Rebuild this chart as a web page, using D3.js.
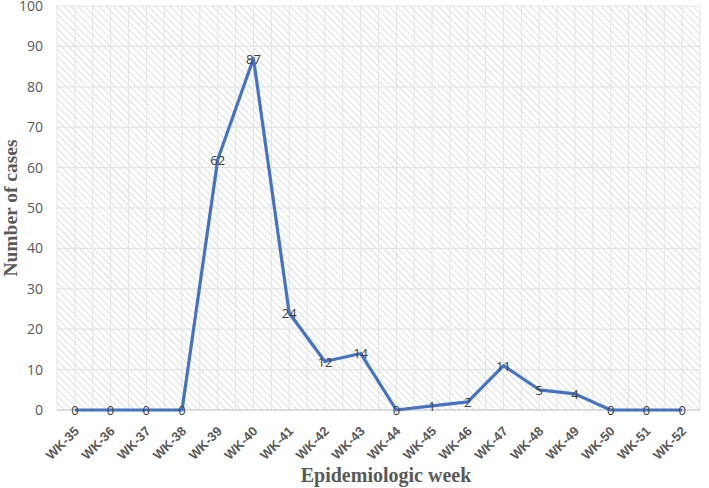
<!DOCTYPE html>
<html>
<head>
<meta charset="utf-8">
<script src="https://cdn.jsdelivr.net/npm/d3@7"></script>
<style>
  body { margin: 0; background: #fff; }
</style>
</head>
<body>
<div id="chart"></div>
<script>
// weekly case counts
var weeks = ["WK-35","WK-36","WK-37","WK-38","WK-39","WK-40","WK-41","WK-42","WK-43",
             "WK-44","WK-45","WK-46","WK-47","WK-48","WK-49","WK-50","WK-51","WK-52"]
var cases = [0,0,0,0,62,87,24,12,14,0,1,2,11,5,4,0,0,0]
var yTicks = [0,10,20,30,40,50,60,70,80,90,100]

var w = 709
var h = 488
var pLeft = 57, pRight = 700, pTop = 6, pBottom = 410

var svg = d3.select("#chart")
            .append("svg")
            .attr("width", w)
            .attr("height", h)

var defs = svg.append("defs")
var pat = defs.append("pattern")
    .attr("id", "hatch")
    .attr("patternUnits", "userSpaceOnUse")
    .attr("width", 5)
    .attr("height", 5)
    .attr("patternTransform", "rotate(-45)")
pat.append("line")
   .attr("x1", 0).attr("y1", 0).attr("x2", 0).attr("y2", 5)
   .attr("stroke", "#d8d8d8")
   .attr("stroke-width", 1.7)

var x = d3.scaleBand()
    .domain(weeks)
    .range([pLeft, pRight])

var y = d3.scaleLinear()
    .domain([0, 100])
    .range([pBottom, pTop])

// hatched plot area
svg.append("rect")
   .attr("x", pLeft)
   .attr("y", pTop)
   .attr("width", pRight - pLeft)
   .attr("height", pBottom - pTop)
   .attr("fill", "url(#hatch)")

// vertical gridlines at band edges and centres
var vLines = []
weeks.forEach(function(d) {
  vLines.push(x(d))
  vLines.push(x(d) + x.bandwidth() / 2)
})
vLines.push(pRight)
svg.append("g")
   .selectAll("line")
   .data(vLines)
   .enter()
   .append("line")
   .attr("x1", d => d).attr("x2", d => d)
   .attr("y1", pTop).attr("y2", pBottom)
   .attr("stroke", "#e3e3e3")
   .attr("stroke-width", 1)

// horizontal gridlines
svg.append("g")
   .selectAll("line")
   .data(yTicks)
   .enter()
   .append("line")
   .attr("x1", pLeft).attr("x2", pRight)
   .attr("y1", d => y(d)).attr("y2", d => y(d))
   .attr("stroke", d => d === 0 ? "#d0d0d0" : "#e3e3e3")
   .attr("stroke-width", d => d === 0 ? 1.5 : 1.2)

// y axis labels
var yAxis = d3.axisLeft(y).tickValues(yTicks).tickSize(0).tickPadding(14)
var gy = svg.append("g")
   .attr("transform", "translate(" + pLeft + ",0)")
   .call(yAxis)
gy.select(".domain").remove()
gy.selectAll("text")
  .attr("font-family", "'Open Sans', 'Liberation Sans', sans-serif")
  .attr("font-size", "14px")
  .attr("fill", "#595959")

// x axis labels
var xAxis = d3.axisBottom(x).tickSize(0).tickPadding(0)
var gx = svg.append("g")
   .attr("transform", "translate(0," + pBottom + ")")
   .call(xAxis)
gx.select(".domain").remove()
gx.selectAll("text")
  .attr("font-family", "'Liberation Sans', sans-serif")
  .attr("font-size", "13px")
  .attr("font-weight", "bold")
  .attr("fill", "#595959")
  .attr("text-anchor", "end")
  .attr("dy", "0")
  .attr("transform", "translate(5,22) rotate(-45)")

// line
var line = d3.line()
    .x((d, i) => x(weeks[i]) + x.bandwidth() / 2)
    .y(d => y(d))

svg.append("path")
   .datum(cases)
   .attr("d", line)
   .attr("fill", "none")
   .attr("stroke", "#4472C4")
   .attr("stroke-width", 3.2)
   .attr("stroke-linejoin", "round")

// data labels
svg.append("g")
   .selectAll("text")
   .data(cases)
   .enter()
   .append("text")
   .text(d => d)
   .attr("x", (d, i) => x(weeks[i]) + x.bandwidth() / 2)
   .attr("y", d => y(d) + 5)
   .attr("text-anchor", "middle")
   .attr("font-family", "'Open Sans', 'Liberation Sans', sans-serif")
   .attr("font-size", "13px")
   .attr("fill", "#404040")

// axis titles
svg.append("text")
   .text("Epidemiologic week")
   .attr("x", 386)
   .attr("y", 482)
   .attr("text-anchor", "middle")
   .attr("font-family", "'Liberation Serif', 'Times New Roman', serif")
   .attr("font-weight", "bold")
   .attr("font-size", "20px")
   .attr("fill", "#595959")

svg.append("text")
   .text("Number of cases")
   .attr("transform", "translate(17,208) rotate(-90)")
   .attr("text-anchor", "middle")
   .attr("font-family", "'Liberation Serif', 'Times New Roman', serif")
   .attr("font-weight", "bold")
   .attr("font-size", "19.5px")
   .attr("fill", "#595959")
</script>
</body>
</html>
